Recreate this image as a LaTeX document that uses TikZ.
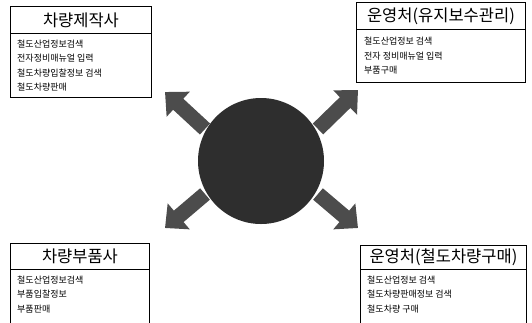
\documentclass[tikz,border=0pt]{standalone}
\usepackage{fontspec}
\newfontfamily\kr{Noto Sans CJK KR}
\usetikzlibrary{arrows.meta}
\tikzset{
  titlebox/.style={draw, line width=0.9pt, anchor=north west, minimum height=#1, inner sep=0pt, font=\kr\fontsize{16.5}{18}\selectfont},
  itembox/.style={draw, line width=0.9pt, anchor=north west, minimum height=#1, inner sep=0pt},
  itemtext/.style={anchor=north west, inner sep=0pt, align=left, font=\kr\fontsize{9}{14.5}\selectfont},
  fatarrow/.style={draw=black!70, line width=15pt, -{Triangle[length=18pt,width=33pt]}},
}
\begin{document}
\begin{tikzpicture}[x=1pt,y=-1pt]
\useasboundingbox (0,0) rectangle (532,322);
\clip (0,0) rectangle (532,322);
% top-left
\node[titlebox=27pt, minimum width=141pt] (t1) at (10,6) {차량제작사};
\node[itembox=64pt, minimum width=141pt] (b1) at (10,33) {};
\node[itemtext] (i1) at (17,39.5) {철도산업정보검색\\전자정비매뉴얼 입력\\철도차량입찰정보 검색\\철도차량판매};
% top-right
\node[titlebox=27pt, minimum width=169pt] (t2) at (356,2) {운영처(유지보수관리)};
\node[itembox=53pt, minimum width=169pt] (b2) at (356,29) {};
\node[itemtext] (i2) at (364,37) {철도산업정보 검색\\전자 정비매뉴얼 입력\\부품구매};
% bottom-left
\node[titlebox=26pt, minimum width=139pt] (t3) at (10,243) {차량부품사};
\node[itembox=60pt, minimum width=139pt] (b3) at (10,269) {};
\node[itemtext] (i3) at (17,275.5) {철도산업정보검색\\부품입찰정보\\부품판매};
% bottom-right
\node[titlebox=24pt, minimum width=166pt] (t4) at (360,245) {운영처(철도차량구매)};
\node[itembox=60pt, minimum width=166pt] (b4) at (360,269) {};
\node[itemtext] (i4) at (367,275.5) {철도산업정보 검색\\철도차량판매정보 검색\\철도차량 구매};
% centre
\node[circle, fill=black!82, minimum size=126pt, inner sep=0pt] (c) at (261,161) {};
\coordinate (nwT) at (205,129); \coordinate (nwH) at (165,92);
\coordinate (neT) at (318,129); \coordinate (neH) at (358,90);
\coordinate (swT) at (205,194); \coordinate (swH) at (165,228);
\coordinate (seT) at (318,194); \coordinate (seH) at (358,228);
\draw[fatarrow] (nwT) -- (nwH);
\draw[fatarrow] (neT) -- (neH);
\draw[fatarrow] (swT) -- (swH);
\draw[fatarrow] (seT) -- (seH);
\end{tikzpicture}
\end{document}
